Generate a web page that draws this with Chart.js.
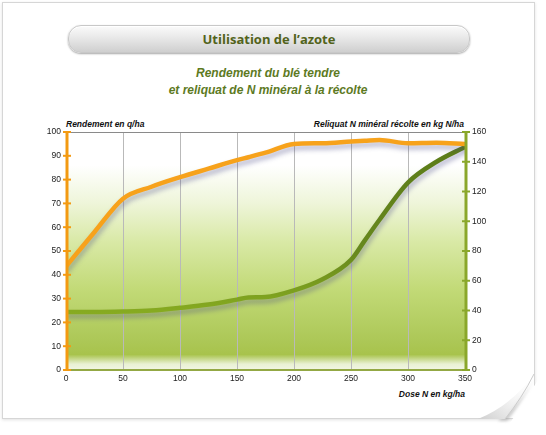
<!DOCTYPE html>
<html>
<head>
<meta charset="utf-8">
<script src="https://cdn.jsdelivr.net/npm/chart.js@4.4.1/dist/chart.umd.min.js"></script>
<style>
  html, body { margin: 0; padding: 0; background: #fff; }
  #page { position: relative; width: 546px; height: 435px; overflow: hidden; font-family: 'Liberation Sans', Arial, sans-serif; }
  #card { position: absolute; left: 2px; top: 2px; width: 531px; height: 415px; background: #fff;
          border: 1px solid #d6d6d6; box-shadow: 0 1px 3px rgba(0,0,0,0.12);
          clip-path: polygon(-6px -6px, 540px -6px, 540px 372px, 506px 424px, -6px 424px); }
  #curl { position: absolute; left: 0; top: 0; }
  #pill { position: absolute; left: 68px; top: 25px; width: 400px; height: 26px; border-radius: 13px;
          background: linear-gradient(#fbfbfb, #e4e4e4 55%, #cfcfcf);
          box-shadow: 0 1px 2px rgba(0,0,0,0.35), inset 0 1px 0 #fff; border: 1px solid #c8c8c8; }
  #pill span { display: block; text-align: center; line-height: 26px; font-family: 'Open Sans', sans-serif;
               font-weight: bold; font-size: 13px; color: #52631b; }
  #sub { position: absolute; left: 0; width: 536px; top: 65px; text-align: center; font-weight: bold; font-style: italic;
         font-size: 12px; line-height: 17px; color: #5d7a1f; }
  .atitle { position: absolute; font-weight: bold; font-style: italic; font-size: 8.5px; color: #111; white-space: nowrap; }
  #wrap { position: absolute; left: 0; top: 0; width: 546px; height: 435px; }
</style>
</head>
<body>
<div id="page">
  <div id="card"></div>
  <svg id="curl" width="546" height="435">
    <defs>
      <linearGradient id="cg" x1="1" y1="0" x2="0" y2="1">
        <stop offset="0" stop-color="#ffffff" stop-opacity="0"/>
        <stop offset="0.7" stop-color="#e6e6e6"/>
        <stop offset="1" stop-color="#cfcfcf"/>
      </linearGradient>
      <filter id="blur" x="-20%" y="-20%" width="140%" height="140%"><feGaussianBlur stdDeviation="1.5"/></filter>
    </defs>
    <path d="M536 376 Q522 402 507 421 L498 421 Q522 402 536 376 Z" fill="#999" opacity="0.5" filter="url(#blur)"/>
    <path d="M534 374 Q522 398 505 419 L478 419 Q512 405 534 374 Z" fill="url(#cg)"/>
    <path d="M534 374 Q522 398 505 419" stroke="#cccccc" stroke-width="1" fill="none"/>
  </svg>
  <div id="pill"><span>Utilisation de l’azote</span></div>
  <div id="sub">Rendement du blé tendre<br>et reliquat de N minéral à la récolte</div>
  <div class="atitle" style="left:66px; top:119px;">Rendement en q/ha</div>
  <div class="atitle" style="right:82px; top:119px;">Reliquat N minéral récolte en kg N/ha</div>
  <div class="atitle" style="right:81px; top:389px;">Dose N en kg/ha</div>
  <div id="wrap"><canvas id="chart"></canvas></div>
</div>
<script>
// doses N (kg/ha)
const doses = [0, 25, 50, 75, 100, 125, 150, 160, 175, 200, 225, 250, 262, 275, 300, 325, 350];
// rendement (q/ha)
const rendement = [43.5, 58, 72, 77, 81, 84.6, 88.2, 89.4, 91.3, 95, 95.3, 96, 96.3, 96.6, 95.3, 95.5, 95];
// reliquat N mineral a la recolte (kg N/ha)
const reliquat = [39, 39, 39.3, 40, 41.8, 44, 47.3, 48.7, 49, 53.5, 61, 74, 87, 101, 126, 140, 150];

const xTicks = [0, 50, 100, 150, 200, 250, 300, 350];
const leftTicks = [0, 10, 20, 30, 40, 50, 60, 70, 80, 90, 100];
const rightTicks = [0, 20, 40, 60, 80, 100, 120, 140, 160];

const pts = (ys) => doses.map((d, i) => ({ x: d, y: ys[i] }));

const bgPlugin = {
  id: 'bg',
  beforeDraw(chart) {
    const { ctx, chartArea: a } = chart;
    const g = ctx.createLinearGradient(0, a.top, 0, a.bottom);
    g.addColorStop(0, '#ffffff');
    g.addColorStop(0.14, '#ffffff');
    g.addColorStop(0.3, '#eef5d9');
    g.addColorStop(0.46, '#d9e9a6');
    g.addColorStop(0.66, '#c2da77');
    g.addColorStop(0.87, '#adc858');
    g.addColorStop(0.935, '#a8c34c');
    g.addColorStop(0.975, '#e9f1d3');
    g.addColorStop(1, '#f2f6e4');
    ctx.save();
    ctx.fillStyle = g;
    ctx.fillRect(a.left, a.top, a.right - a.left, a.bottom - a.top);
    ctx.restore();
  }
};

const shadowPlugin = {
  id: 'shadow',
  beforeDatasetDraw(chart) {
    const ctx = chart.ctx;
    ctx.save();
    ctx.shadowColor = 'rgba(70,70,130,0.4)';
    ctx.shadowBlur = 5;
    ctx.shadowOffsetY = 4;
    ctx.shadowOffsetX = 1;
  },
  afterDatasetDraw(chart) {
    chart.ctx.restore();
  }
};

const axesPlugin = {
  id: 'axes',
  afterDatasetsDraw(chart) {
    const { ctx, chartArea: a, scales } = chart;
    ctx.save();
    // top line at 100
    ctx.strokeStyle = '#8a8a8a';
    ctx.lineWidth = 1;
    ctx.beginPath();
    ctx.moveTo(a.left, a.top + 0.5);
    ctx.lineTo(a.right, a.top + 0.5);
    ctx.stroke();
    // bottom axis
    ctx.strokeStyle = '#93a844';
    ctx.lineWidth = 2;
    ctx.beginPath();
    ctx.moveTo(a.left, a.bottom);
    ctx.lineTo(a.right, a.bottom);
    ctx.stroke();
    // left axis
    ctx.strokeStyle = '#f39a12';
    ctx.lineWidth = 3;
    ctx.beginPath();
    ctx.moveTo(a.left + 1, a.top);
    ctx.lineTo(a.left + 1, a.bottom + 1);
    ctx.stroke();
    ctx.lineWidth = 2;
    leftTicks.forEach(v => {
      const y = scales.y.getPixelForValue(v);
      ctx.beginPath();
      ctx.moveTo(a.left - 3, y);
      ctx.lineTo(a.left + 5, y);
      ctx.stroke();
    });
    // right axis
    ctx.strokeStyle = '#8aa72a';
    ctx.lineWidth = 3;
    ctx.beginPath();
    ctx.moveTo(a.right + 1, a.top);
    ctx.lineTo(a.right + 1, a.bottom + 1);
    ctx.stroke();
    ctx.lineWidth = 2;
    rightTicks.forEach(v => {
      const y = scales.y1.getPixelForValue(v);
      ctx.beginPath();
      ctx.moveTo(a.right - 3, y);
      ctx.lineTo(a.right + 5, y);
      ctx.stroke();
    });
    ctx.restore();
  }
};

const tickFont = { family: "'Liberation Sans', Arial, sans-serif", size: 8.5 };

new Chart(document.getElementById('chart'), {
  type: 'line',
  data: {
    datasets: [
      {
        label: 'Rendement',
        data: pts(rendement),
        yAxisID: 'y',
        borderColor: '#f7a21b',
        borderWidth: 4.5,
        pointRadius: 0,
        cubicInterpolationMode: 'monotone',
        borderCapStyle: 'round'
      },
      {
        label: 'Reliquat',
        data: pts(reliquat),
        yAxisID: 'y1',
        borderColor: (c) => {
          const { ctx, chartArea } = c.chart;
          if (!chartArea) return '#6b8c1f';
          const g = ctx.createLinearGradient(0, chartArea.top, 0, chartArea.bottom);
          g.addColorStop(0, '#5a7a18');
          g.addColorStop(0.5, '#67881d');
          g.addColorStop(0.75, '#86aa20');
          g.addColorStop(1, '#96ba28');
          return g;
        },
        borderWidth: 4.5,
        pointRadius: 0,
        cubicInterpolationMode: 'monotone',
        borderCapStyle: 'round'
      }
    ]
  },
  options: {
    responsive: true,
    maintainAspectRatio: false,
    animation: false,
    layout: { padding: { top: 132, left: 0, right: 0, bottom: 0 } },
    plugins: { legend: { display: false }, tooltip: { enabled: false } },
    scales: {
      x: {
        type: 'linear', min: 0, max: 350,
        afterBuildTicks: (s) => { s.ticks = xTicks.map(v => ({ value: v })); },
        afterFit: (s) => { s.height = 65; },
        ticks: { color: '#222', font: tickFont, padding: 4, maxRotation: 0 },
        grid: { color: '#b9b9b9', lineWidth: 1, drawTicks: false },
        border: { display: false }
      },
      y: {
        position: 'left', min: 0, max: 100,
        afterBuildTicks: (s) => { s.ticks = leftTicks.map(v => ({ value: v })); },
        afterFit: (s) => { s.width = 66; },
        ticks: { color: '#222', font: tickFont, padding: 5 },
        grid: { display: false, drawTicks: false },
        border: { display: false }
      },
      y1: {
        position: 'right', min: 0, max: 160,
        afterBuildTicks: (s) => { s.ticks = rightTicks.map(v => ({ value: v })); },
        afterFit: (s) => { s.width = 81; },
        ticks: { color: '#222', font: tickFont, padding: 7 },
        grid: { display: false, drawTicks: false },
        border: { display: false }
      }
    }
  },
  plugins: [bgPlugin, shadowPlugin, axesPlugin]
});
</script>
</body>
</html>
